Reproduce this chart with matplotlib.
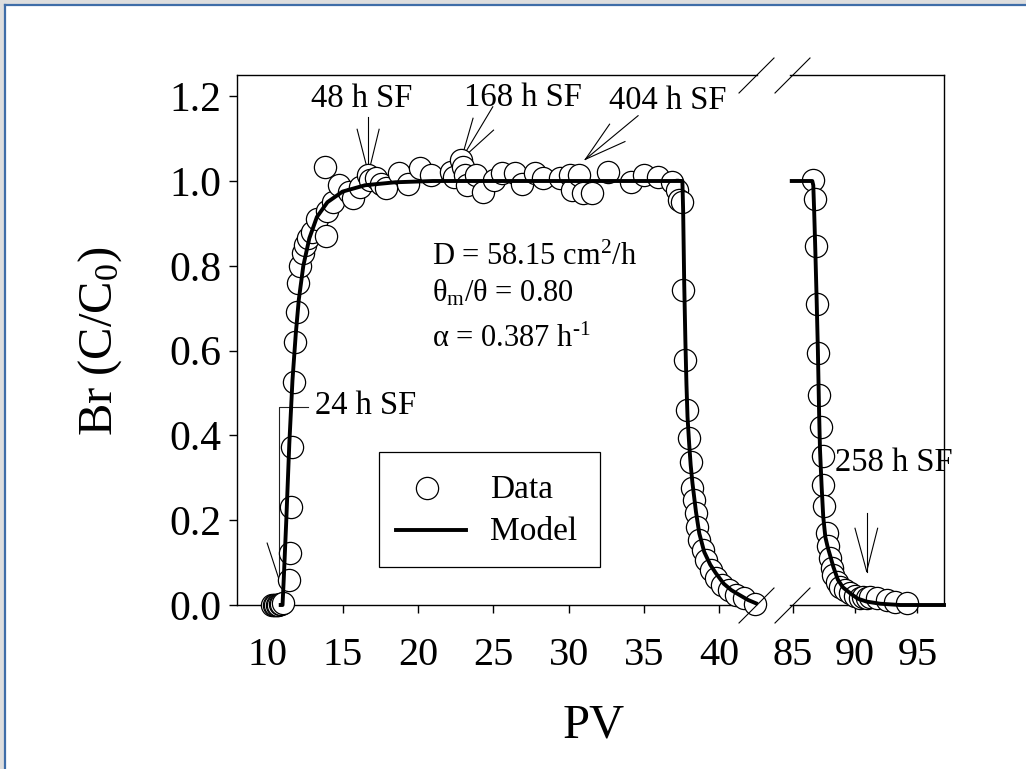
import matplotlib
matplotlib.use('Agg')
import matplotlib.pyplot as plt
from matplotlib.patches import Rectangle
from matplotlib.lines import Line2D

plt.rcParams['font.family'] = ['Liberation Serif', 'DejaVu Serif']
plt.rcParams['mathtext.fontset'] = 'custom'
plt.rcParams['mathtext.rm'] = 'Liberation Serif'
plt.rcParams['mathtext.it'] = 'Liberation Serif:italic'

# ---- data: breakthrough (left part of axis) ----
data1_x = [10.35, 10.45, 10.55, 10.65, 10.75, 10.85, 10.95, 11.02,
           11.46, 11.5, 11.57, 11.63, 11.79, 11.88, 11.98, 12.08, 12.2, 12.35, 12.5,
           12.7, 13.0, 13.3, 13.9, 14.0, 14.4, 13.83, 14.78, 15.42, 15.7, 16.13, 16.72,
           16.82, 17.19, 17.55, 17.9, 18.73, 19.33, 20.16, 20.87, 22.17, 22.41, 22.88,
           23.0, 23.12, 23.24, 23.83, 24.31, 25.02, 25.61, 26.44, 26.91, 27.74, 28.33,
           29.4, 30.11, 30.23, 30.7, 30.94, 31.53, 32.6, 34.14, 34.97, 35.92, 36.87,
           37.22, 37.34,
           37.52, 37.56, 37.72, 37.85, 38.0, 38.11, 38.22, 38.33, 38.45, 38.55, 38.67,
           38.89, 39.11, 39.44, 39.77, 40.21, 40.66, 41.1, 41.65, 42.38]
data1_y = [0.0, 0.0, 0.0, 0.0, 0.0, 0.002, 0.003, 0.005,
           0.059, 0.122, 0.232, 0.373, 0.527, 0.62, 0.69, 0.76, 0.80, 0.83, 0.85,
           0.865, 0.88, 0.91, 0.87, 0.93, 0.95, 1.032, 0.991, 0.975, 0.96, 0.987, 1.014,
           1.002, 1.006, 0.994, 0.983, 1.018, 0.994, 1.03, 1.014, 1.022, 1.01, 1.05,
           1.034, 1.014, 0.991, 1.014, 0.975, 1.002, 1.018, 1.018, 0.994, 1.018, 1.006,
           1.006, 1.014, 0.979, 1.014, 0.971, 0.971, 1.022, 0.998, 1.014, 1.01, 0.998,
           0.979, 0.955,
           0.951, 0.743, 0.578, 0.46, 0.393, 0.338, 0.275, 0.248, 0.216, 0.185, 0.153,
           0.13, 0.106, 0.083, 0.063, 0.047, 0.035, 0.024, 0.016, 0.002]

model1_x = [10.9, 11.02, 11.1, 11.27, 11.47, 11.68, 11.9, 12.1, 12.4, 12.8, 13.3, 14.0,
            15.0, 16.5, 18.5, 21.0, 37.55, 37.6, 37.67, 37.75, 37.82, 37.89, 38.0, 38.1,
            38.22, 38.45, 38.67, 39.0, 39.4, 39.77, 40.3, 40.8, 41.32, 41.9, 42.43]
model1_y = [0.0, 0.0, 0.06, 0.2, 0.38, 0.53, 0.64, 0.72, 0.80, 0.865, 0.915, 0.95,
            0.975, 0.99, 0.997, 1.0, 1.0, 0.93, 0.76, 0.62, 0.52, 0.444, 0.38, 0.33,
            0.287, 0.22, 0.169, 0.125, 0.095, 0.075, 0.05, 0.035, 0.024, 0.012, 0.004]

# ---- data: second pulse (right part of axis) ----
data2_x = [86.63, 86.77, 86.85, 86.9, 87.03, 87.11, 87.25, 87.39, 87.43, 87.51,
           87.71, 87.84, 87.97, 88.11, 88.24, 88.51, 88.78, 89.18, 89.58, 89.98,
           90.38, 90.6, 90.92, 91.2, 91.72, 92.53, 93.2, 94.13]
data2_y = [1.002, 0.957, 0.847, 0.709, 0.595, 0.495, 0.42, 0.351, 0.283, 0.233,
           0.169, 0.138, 0.11, 0.087, 0.071, 0.055, 0.043, 0.035, 0.028, 0.021,
           0.016, 0.02, 0.016, 0.018, 0.016, 0.012, 0.008, 0.004]

model2_x = [84.9, 86.55, 86.63, 86.7, 86.8, 86.9, 87.0, 87.1, 87.17, 87.3, 87.43, 87.6,
            87.8, 88.0, 88.24, 88.6, 89.0, 89.58, 90.2, 90.92, 92.0, 93.6, 97.13]
model2_y = [1.0, 1.0, 0.99, 0.93, 0.83, 0.72, 0.6, 0.45, 0.366, 0.28, 0.208, 0.16,
            0.135, 0.115, 0.09, 0.06, 0.042, 0.028, 0.015, 0.008, 0.003, 0.0, 0.0]

yticks = [0.0, 0.2, 0.4, 0.6, 0.8, 1.0, 1.2]
xticks1 = [10, 15, 20, 25, 30, 35, 40]
xticks2 = [85, 90, 95]

W, H = 1026, 769


def fx(px):
    return px / W


def fy(py):
    return 1 - py / H


fig = plt.figure(figsize=(W / 100, H / 100), dpi=100)
fig.patch.set_facecolor('#dedede')
fig.add_artist(Rectangle((fx(6), 0), 1, fy(6), transform=fig.transFigure,
                         facecolor='white', edgecolor='none', zorder=-5))
fig.add_artist(Line2D([fx(5), 1], [fy(5), fy(5)], transform=fig.transFigure,
                      color='#3f6da8', lw=1.6))
fig.add_artist(Line2D([fx(5), fx(5)], [0, fy(5)], transform=fig.transFigure,
                      color='#3f6da8', lw=1.6))

ax1 = fig.add_axes([fx(237), fy(605), fx(757) - fx(237), fy(75) - fy(605)])
ax2 = fig.add_axes([fx(790), fy(605), fx(944) - fx(790), fy(75) - fy(605)])

mk = dict(marker='o', ms=16, mfc='white', mec='black', mew=0.9, ls='none',
          clip_on=False, zorder=3)
ax1.plot(data1_x, data1_y, **mk)
ax1.plot(model1_x, model1_y, color='black', lw=2.8, zorder=4, clip_on=False)
ax2.plot(data2_x, data2_y, **mk)
ax2.plot(model2_x, model2_y, color='black', lw=2.8, zorder=4, clip_on=False)

ax1.set_xlim(8, 42.5)
ax2.set_xlim(84.76, 97.13)
for ax in (ax1, ax2):
    ax.set_ylim(0, 1.25)
    ax.set_facecolor('none')
    for s in ax.spines.values():
        s.set_linewidth(1.0)
    ax.tick_params(direction='out', length=6, width=1.0, labelsize=29, pad=17)
ax1.spines['right'].set_visible(False)
ax2.spines['left'].set_visible(False)
ax1.set_xticks(xticks1)
ax2.set_xticks(xticks2)
ax1.set_yticks(yticks)
ax1.set_yticklabels(['%.1f' % v for v in yticks])
ax1.tick_params(axis='y', pad=5, labelsize=30)
ax2.set_yticks([])

# axis break marks
for x0 in (739, 775):
    for yb in (623, 93):
        fig.add_artist(Line2D([fx(x0), fx(x0 + 35)], [fy(yb), fy(yb - 35)],
                              transform=fig.transFigure, color='black', lw=0.8))

fig.text(fx(594), fy(725), 'PV', fontsize=35, ha='center', va='center')
fig.text(fx(100), fy(341), 'Br (C/C$_0$)', fontsize=35, ha='center', va='center',
         rotation=90)

# annotations: arrows (tail, tip, head1, head2)
arrows1 = [
    ((16.72, 1.152), (16.72, 1.018), (15.97, 1.122), (17.43, 1.122)),
    ((24.97, 1.175), (22.88, 1.051), (23.66, 1.148), (25.02, 1.12)),
    ((34.61, 1.154), (31.11, 1.051), (32.72, 1.134), (33.74, 1.093)),
]
for tail, tip, h1, h2 in arrows1:
    for a in (tail, h1, h2):
        ax1.plot([a[0], tip[0]], [a[1], tip[1]], color='black', lw=0.8, clip_on=False,
                 zorder=2)
ax1.text(16.27, 1.195, '48 h SF', fontsize=23.5, ha='center', va='center')
ax1.text(27.0, 1.197, '168 h SF', fontsize=23.5, ha='center', va='center')
ax1.text(36.6, 1.19, '404 h SF', fontsize=23.5, ha='center', va='center')

# 24 h SF bracket
ax1.plot([12.72, 10.8, 10.8], [0.467, 0.467, 0.059], color='#222222', lw=0.8, zorder=2)
ax1.plot([10.0, 10.8], [0.146, 0.059], color='black', lw=0.8, zorder=2)
ax1.text(13.19, 0.469, '24 h SF', fontsize=23.5, ha='left', va='center')

# 258 h SF
for a in ((90.92, 0.216), (89.98, 0.181), (91.8, 0.181)):
    ax2.plot([a[0], 90.92], [a[1], 0.079], color='black', lw=0.8, zorder=2)
ax2.text(88.37, 0.335, '258 h SF', fontsize=23.5, ha='left', va='center', clip_on=False)

# parameter text
ax1.text(20.95, 0.802, 'D = 58.15 cm$^2$/h', fontsize=22, ha='left', va='baseline')
ax1.text(20.95, 0.715, 'θ$_{\\rm m}$/θ = 0.80', fontsize=22, ha='left', va='baseline')
ax1.text(20.95, 0.609, 'α = 0.387 h$^{\\text{-1}}$', fontsize=22, ha='left',
         va='baseline')

# legend
fig.add_artist(Rectangle((fx(379), fy(567)), fx(600) - fx(379), fy(452) - fy(567),
                         transform=fig.transFigure, facecolor='white', edgecolor='black',
                         lw=0.9, zorder=5))
fig.add_artist(Line2D([fx(427)], [fy(488)], transform=fig.transFigure, marker='o',
                      ms=16, mfc='white', mec='black', mew=0.9, zorder=6))
fig.add_artist(Line2D([fx(396), fx(466)], [fy(530), fy(530)], transform=fig.transFigure,
                      color='black', lw=2.8, zorder=6))
fig.text(fx(490), fy(490), 'Data', fontsize=24, ha='left', va='center', zorder=6)
fig.text(fx(490), fy(532), 'Model', fontsize=24, ha='left', va='center', zorder=6)

fig.savefig('out.png', dpi=100, facecolor=fig.get_facecolor())
